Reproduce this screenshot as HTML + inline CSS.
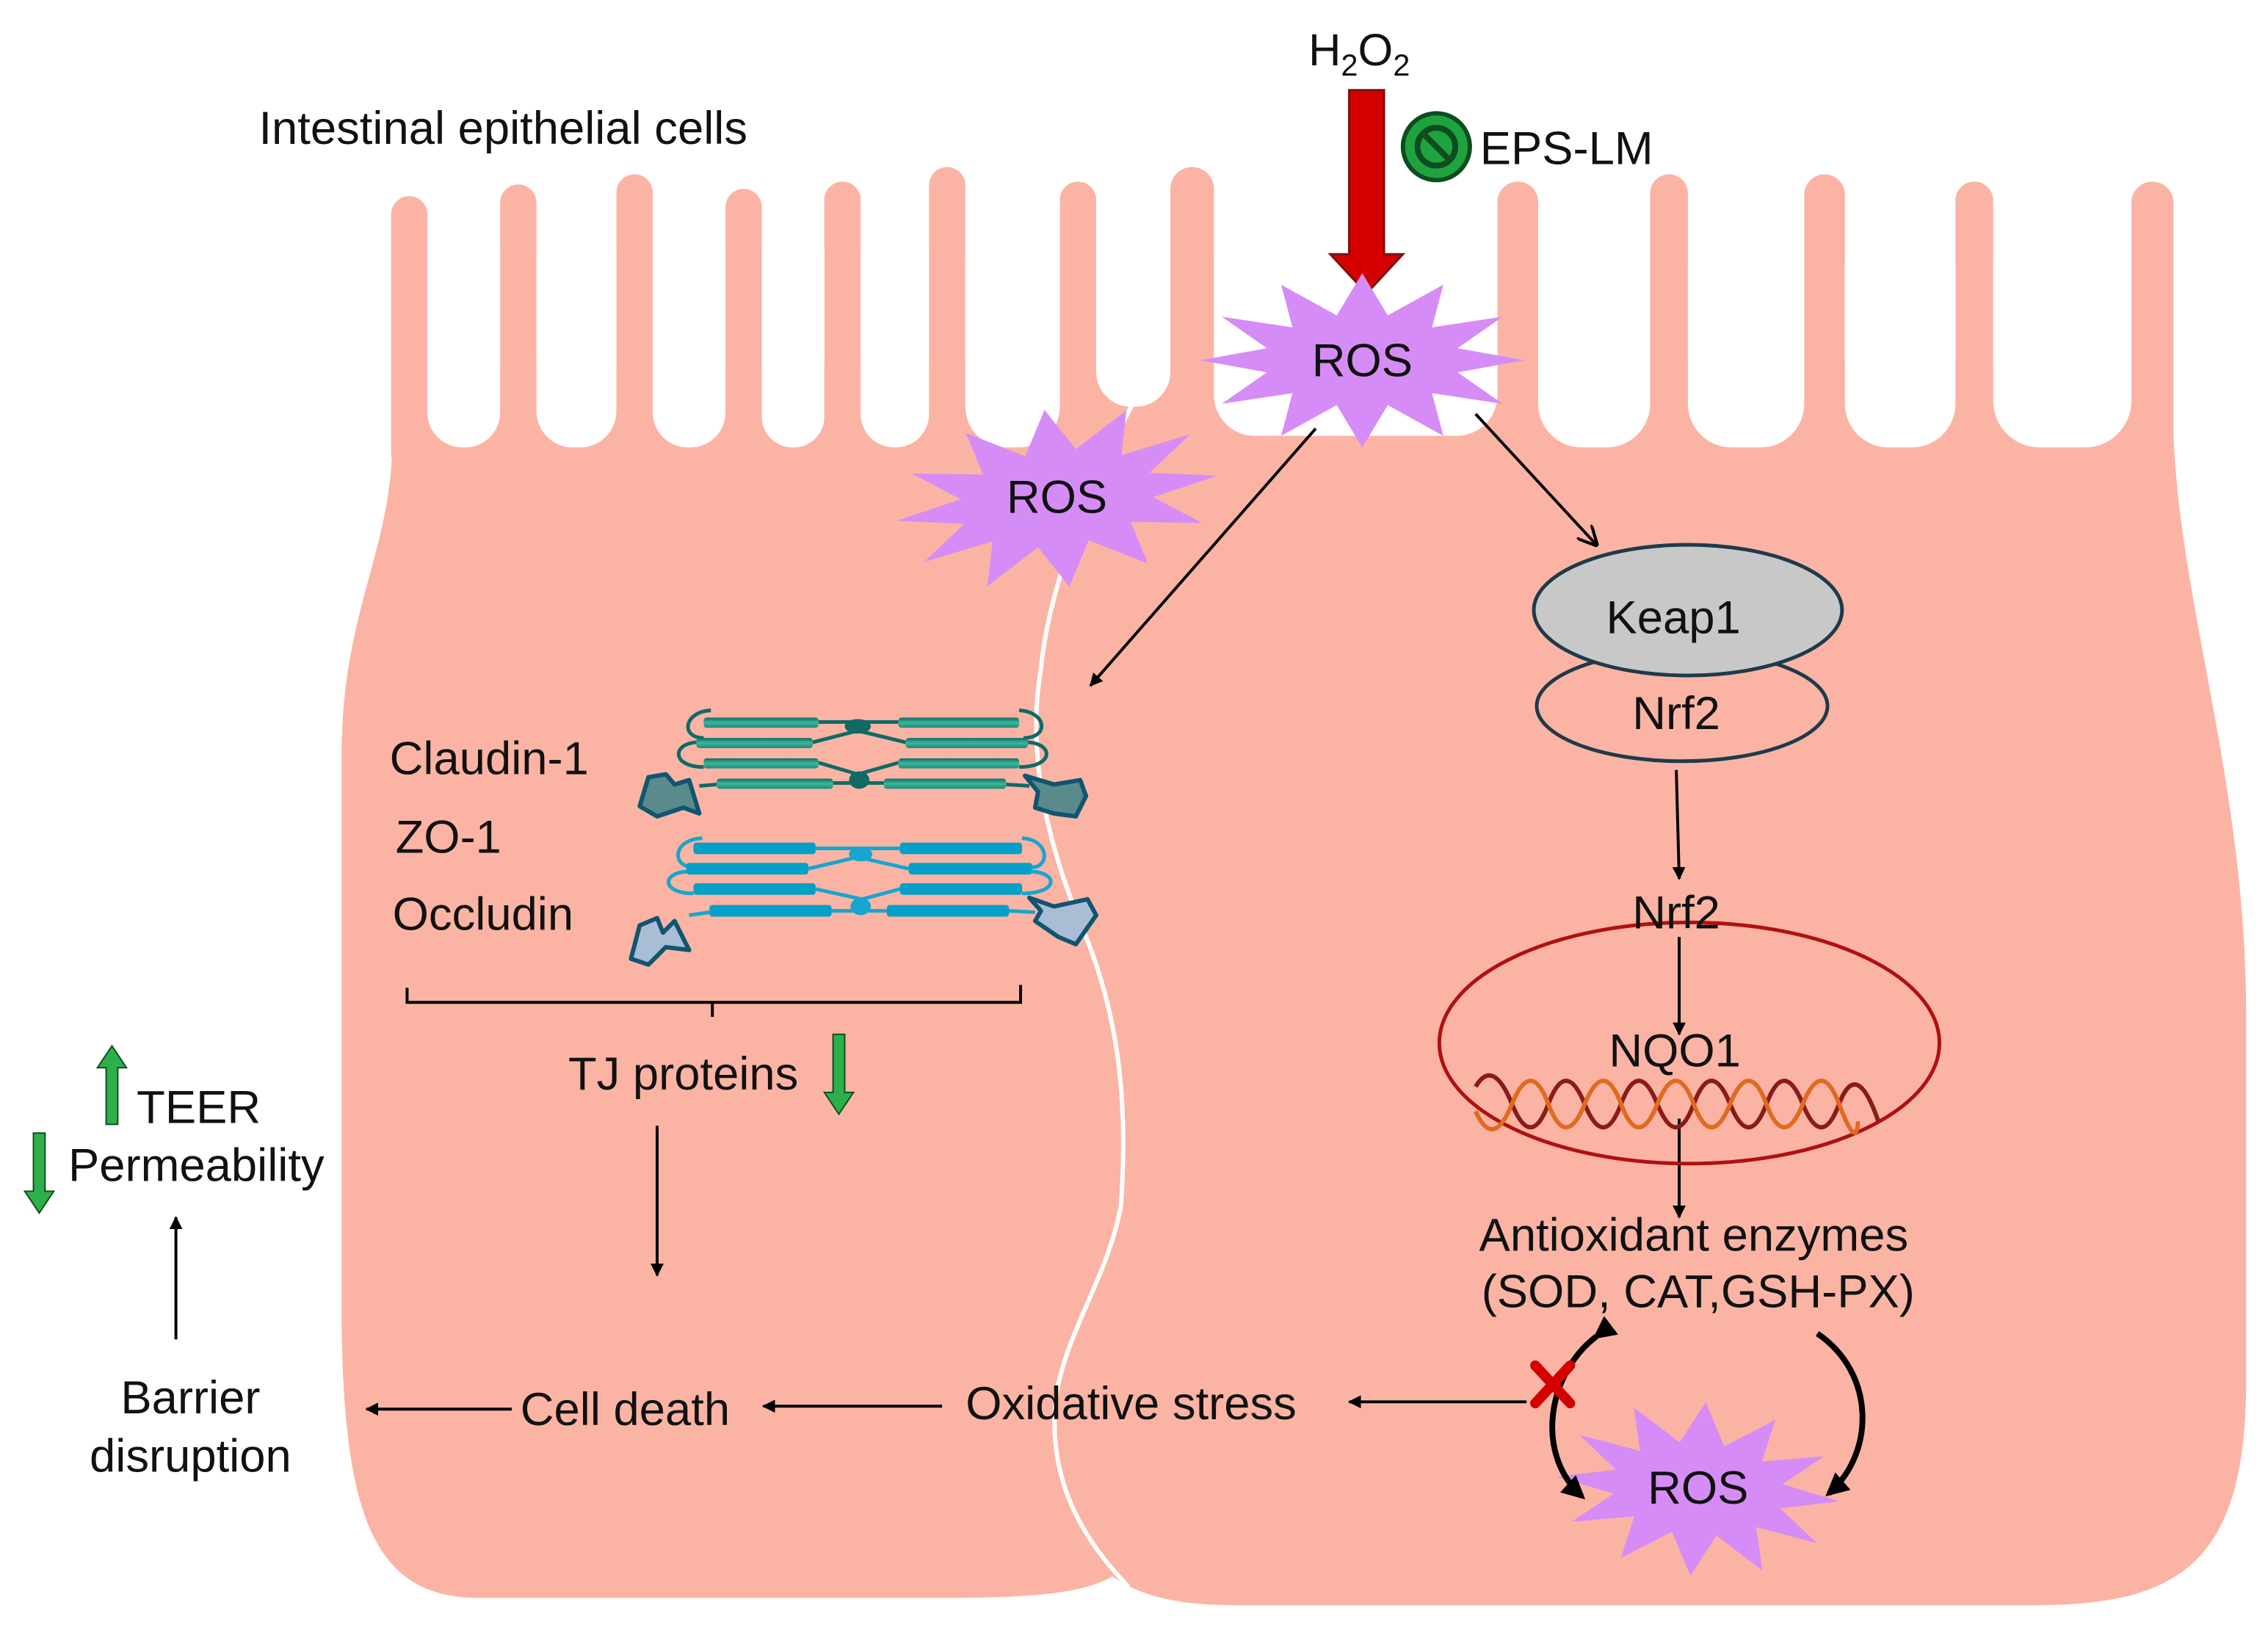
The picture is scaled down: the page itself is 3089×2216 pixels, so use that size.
<!DOCTYPE html>
<html><head><meta charset="utf-8"><style>
html,body{margin:0;padding:0;background:#fff}
svg{display:block}
text{font-family:"Liberation Sans",Arial,sans-serif;fill:#111}
</style></head><body>
<svg width="3089" height="2216" viewBox="0 0 1560 1120" preserveAspectRatio="none" xmlns="http://www.w3.org/2000/svg">
<defs>
<marker id="ah" viewBox="0 0 10 10" refX="9" refY="5" markerWidth="9" markerHeight="9" orient="auto" markerUnits="userSpaceOnUse"><path d="M0,0 L10,5 L0,10 z" fill="#000"/></marker>
<marker id="ab" viewBox="0 0 10 10" refX="8" refY="5" markerWidth="16" markerHeight="16" orient="auto" markerUnits="userSpaceOnUse"><path d="M0,0 L10,5 L0,10 z" fill="#000"/></marker>
<marker id="ao" viewBox="0 0 10 10" refX="9" refY="5" markerWidth="14" markerHeight="14" orient="auto" markerUnits="userSpaceOnUse"><path d="M0,0 L10,5 L0,10" fill="none" stroke="#000" stroke-width="1.5"/></marker>
<polygon id="star" points="115,0 67.6,10.4 99.6,37.5 49.5,28.3 57.5,65 18.1,38.6 0,75 -18.1,38.6 -57.5,65 -49.5,28.3 -99.6,37.5 -67.6,10.4 -115,0 -67.6,-10.4 -99.6,-37.5 -49.5,-28.3 -57.5,-65 -18.1,-38.6 0,-75 18.1,-38.6 57.5,-65 49.5,-28.3 99.6,-37.5 67.6,-10.4" fill="#d58cf7"/>
<linearGradient id="tg" x1="0" y1="0" x2="0" y2="1"><stop offset="0" stop-color="#0f6a66"/><stop offset="0.5" stop-color="#3cb79b"/><stop offset="1" stop-color="#1d8a7a"/></linearGradient>
</defs>
<g fill="#fbb4a4">
<path d="M270,250 L1495,250 L1495,300 C1500,420 1545,540 1545,700 L1545,950 C1545,1075 1500,1105 1400,1105 L850,1105 C800,1105 780,1095 765,1085 C745,1098 700,1100 650,1100 L330,1100 C260,1100 235,1050 235,900 L235,520 C235,420 270,380 270,300 Z"/>
<rect x="269" y="135" width="25" height="190" rx="12.5"/>
<rect x="344" y="127" width="25" height="200" rx="12.5"/>
<rect x="424" y="120" width="25" height="200" rx="12.5"/>
<rect x="499" y="130" width="25" height="200" rx="12.5"/>
<rect x="567" y="125" width="25" height="200" rx="12.5"/>
<rect x="639" y="115" width="25" height="200" rx="12.5"/>
<rect x="729" y="125" width="25" height="200" rx="12.5"/>
<rect x="805" y="115" width="30" height="200" rx="15"/>
<rect x="1030" y="125" width="28" height="200" rx="14"/>
<rect x="1135" y="120" width="26" height="200" rx="13"/>
<rect x="1241" y="120" width="28" height="200" rx="14"/>
<rect x="1345" y="125" width="26" height="200" rx="13"/>
<rect x="1466" y="125" width="29" height="200" rx="14.5"/>
</g>
<g fill="#fff">
<rect x="294" y="150" width="50" height="158" rx="24"/>
<rect x="369" y="150" width="55" height="158" rx="25"/>
<rect x="449" y="150" width="50" height="158" rx="24"/>
<rect x="524" y="150" width="43" height="158" rx="21"/>
<rect x="592" y="150" width="47" height="158" rx="23"/>
<rect x="664" y="150" width="65" height="158" rx="28"/>
<rect x="754" y="150" width="51" height="130" rx="24"/>
<rect x="835" y="150" width="195" height="150" rx="28"/>
<rect x="1058" y="150" width="77" height="158" rx="30"/>
<rect x="1161" y="150" width="80" height="158" rx="30"/>
<rect x="1269" y="150" width="76" height="158" rx="30"/>
<rect x="1371" y="150" width="95" height="158" rx="32"/>
</g>
<path d="M779,278 C750,335 722,400 716,460 C706,520 720,580 745,640 C770,700 776,760 771,830 C762,880 731,920 726,965 C721,1020 745,1060 776,1092" fill="none" stroke="#fff" stroke-width="3"/>

<text x="178" y="99" font-size="32">Intestinal epithelial cells</text>
<text x="900" y="45" font-size="31">H<tspan font-size="21" dy="7">2</tspan><tspan dy="-7">O</tspan><tspan font-size="21" dy="7">2</tspan></text>
<path d="M928,62 L952,62 L952,175 L965,175 L940,202 L915,175 L928,175 Z" fill="#d40000" stroke="#7a1010" stroke-width="1.5"/>
<circle cx="988" cy="101" r="23" fill="#1fa33f" stroke="#0d4d1f" stroke-width="3"/>
<circle cx="988" cy="101" r="13" fill="none" stroke="#0d4d1f" stroke-width="4"/>
<line x1="979" y1="92" x2="997" y2="110" stroke="#0d4d1f" stroke-width="4"/>
<text x="1018" y="113" font-size="32">EPS-LM</text>

<use href="#star" transform="translate(937,248) scale(0.97,0.8)"/>
<text x="937" y="259" font-size="32" text-anchor="middle">ROS</text>
<use href="#star" transform="translate(727,343) rotate(-8) scale(0.97,0.82)"/>
<text x="727" y="353" font-size="32" text-anchor="middle">ROS</text>
<use href="#star" transform="translate(1168,1025) rotate(5) scale(0.85,0.8)"/>
<text x="1168" y="1035" font-size="32" text-anchor="middle">ROS</text>

<g stroke="#000" stroke-width="2" fill="none">
<line x1="905" y1="295" x2="750" y2="472" marker-end="url(#ah)"/>
<line x1="1015" y1="285" x2="1098" y2="375" marker-end="url(#ao)"/>
<line x1="1153" y1="530" x2="1155" y2="605" marker-end="url(#ah)"/>
<line x1="1155" y1="645" x2="1155" y2="712" marker-end="url(#ah)"/>
<line x1="1155" y1="770" x2="1155" y2="838" marker-end="url(#ah)"/>
<line x1="1050" y1="965" x2="928" y2="965" marker-end="url(#ah)"/>
<line x1="648" y1="968" x2="525" y2="968" marker-end="url(#ah)"/>
<line x1="352" y1="970" x2="252" y2="970" marker-end="url(#ah)"/>
<line x1="121" y1="922" x2="121" y2="838" marker-end="url(#ah)"/>
<line x1="452" y1="775" x2="452" y2="878" marker-end="url(#ah)"/>
<path d="M280,680 L280,690 L702,690 L702,678 M490,690 L490,700"/>
</g>

<ellipse cx="1157" cy="486" rx="100" ry="38" fill="#fbb4a4" stroke="#1e3a4a" stroke-width="2.5"/>
<ellipse cx="1161" cy="420" rx="106" ry="45" fill="#c8c8c8" stroke="#1e3a4a" stroke-width="2.5"/>
<text x="1151" y="436" font-size="32" text-anchor="middle">Keap1</text>
<text x="1153" y="502" font-size="32" text-anchor="middle">Nrf2</text>

<ellipse cx="1162" cy="718" rx="172" ry="83" fill="none" stroke="#b01010" stroke-width="2.5"/>
<text x="1153" y="639" font-size="32" text-anchor="middle">Nrf2</text>
<text x="1152" y="734" font-size="32" text-anchor="middle">NQO1</text>
<path d="M1015,748 Q1027,728 1040,760 T1065,760 T1090,760 T1115,760 T1140,760 T1165,760 T1190,760 T1215,760 T1240,760 T1265,760 T1292,772" fill="none" stroke="#8b1a1a" stroke-width="3"/>
<path d="M1015,765 Q1027,792 1040,760 T1065,760 T1090,760 T1115,760 T1140,760 T1165,760 T1190,760 T1215,760 T1240,760 T1265,760 T1278,772" fill="none" stroke="#e06a20" stroke-width="3"/>

<text x="1165" y="861" font-size="32" text-anchor="middle">Antioxidant enzymes</text>
<text x="1168" y="900" font-size="32" text-anchor="middle">(SOD, CAT,GSH-PX)</text>
<g stroke="#000" stroke-width="4" fill="none">
<path d="M1098,920 C1065,945 1055,1000 1088,1030" marker-end="url(#ab)" marker-start="url(#ab)"/>
<path d="M1250,918 C1290,945 1290,1000 1258,1028" marker-end="url(#ab)"/>
</g>
<g stroke="#d40000" stroke-width="7" stroke-linecap="round"><line x1="1056" y1="940" x2="1080" y2="966"/><line x1="1080" y1="940" x2="1056" y2="966"/></g>

<text x="778" y="977" font-size="32" text-anchor="middle">Oxidative stress</text>
<text x="430" y="981" font-size="32" text-anchor="middle">Cell death</text>
<text x="131" y="973" font-size="32" text-anchor="middle">Barrier</text>
<text x="131" y="1013" font-size="32" text-anchor="middle">disruption</text>
<text x="94" y="773" font-size="32">TEER</text>
<text x="47" y="813" font-size="32">Permeability</text>
<text x="470" y="750" font-size="32" text-anchor="middle">TJ proteins</text>
<text x="268" y="533" font-size="32">Claudin-1</text>
<text x="272" y="587" font-size="32">ZO-1</text>
<text x="270" y="640" font-size="32">Occludin</text>

<g fill="#2db04a" stroke="#0d4d1f" stroke-width="1">
<path d="M73,774 L73,735 L67,735 L77,720 L87,735 L81,735 L81,774 Z"/>
<path d="M23,780 L31,780 L31,820 L37,820 L27,835 L17,820 L23,820 Z"/>
<path d="M573,712 L581,712 L581,752 L587,752 L577,767 L567,752 L573,752 Z"/>
</g>

<!-- claudin -->
<g stroke="#0f6a66" stroke-width="2.5" fill="none">
<path d="M489,489 C470,490 468,508 484,508"/><path d="M701,489 C720,490 722,508 704,508"/>
<path d="M479,511 C462,512 462,528 484,528"/><path d="M707,511 C725,512 725,528 701,528"/>
<path d="M563,497 L618,497 M559,511 L590,503 L623,511 M563,525 L590,533 L618,525 M573,539 L608,539 M481,541 L493,540 M692,540 L708,541"/>
</g>
<g fill="#0f6a66"><ellipse cx="590" cy="500" rx="9" ry="5"/><ellipse cx="591" cy="537" rx="7" ry="6"/></g>
<g fill="url(#tg)">
<rect x="484" y="494" width="79" height="7" rx="2"/><rect x="618" y="494" width="83" height="7" rx="2"/>
<rect x="479" y="508" width="80" height="7" rx="2"/><rect x="623" y="508" width="84" height="7" rx="2"/>
<rect x="484" y="522" width="79" height="7" rx="2"/><rect x="618" y="522" width="83" height="7" rx="2"/>
<rect x="493" y="536" width="80" height="7" rx="2"/><rect x="608" y="536" width="84" height="7" rx="2"/>
</g>
<g fill="#5a8a8c" stroke="#0f5570" stroke-width="3" stroke-linejoin="round">
<path d="M440,555 L446,535 L458,533 L464,540 L474,537 L481,560 L470,556 L452,562 Z"/>
<path d="M705,534 L725,540 L743,537 L747,548 L740,562 L725,560 L712,556 L714,545 Z"/>
</g>
<!-- occludin -->
<g stroke="#16a6cf" stroke-width="2.5" fill="none">
<path d="M483,577 C462,578 462,597 477,597"/><path d="M703,577 C722,578 722,597 710,597"/>
<path d="M472,600 C455,601 455,615 477,615"/><path d="M710,600 C728,601 728,615 703,615"/>
<path d="M561,584 L619,584 M556,598 L590,590 L625,598 M561,612 L593,619 L619,612 M572,627 L610,627 M474,630 L488,628 M694,627 L712,628"/>
</g>
<g fill="#16a6cf"><ellipse cx="592" cy="588" rx="8" ry="5"/><ellipse cx="592" cy="624" rx="7" ry="6"/></g>
<g fill="#04a0c8">
<rect x="477" y="580" width="84" height="8" rx="2"/><rect x="619" y="580" width="84" height="8" rx="2"/>
<rect x="472" y="594" width="84" height="8" rx="2"/><rect x="625" y="594" width="85" height="8" rx="2"/>
<rect x="477" y="608" width="84" height="8" rx="2"/><rect x="619" y="608" width="84" height="8" rx="2"/>
<rect x="488" y="623" width="84" height="8" rx="2"/><rect x="610" y="623" width="84" height="8" rx="2"/>
</g>
<g fill="#a9bdd4" stroke="#0f5570" stroke-width="3" stroke-linejoin="round">
<path d="M434,660 L440,637 L452,632 L456,642 L464,634 L474,654 L458,652 L446,664 Z"/>
<path d="M708,618 L725,624 L748,619 L754,630 L740,650 L728,645 L712,634 L716,627 Z"/>
</g>
</svg>
</body></html>
